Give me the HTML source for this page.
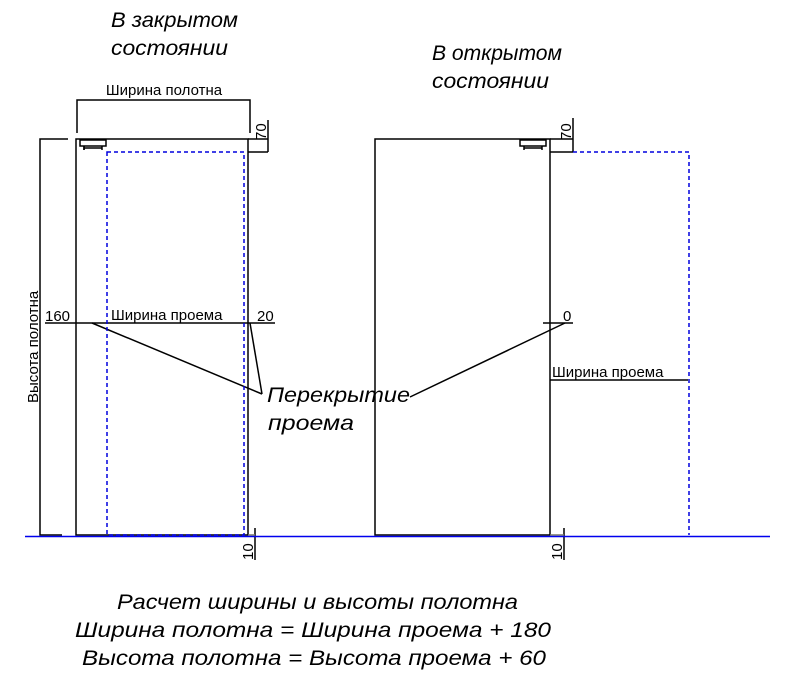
<!DOCTYPE html>
<html><head><meta charset="utf-8"><style>html,body{margin:0;padding:0;background:#fff}</style></head>
<body>
<svg width="789" height="681" viewBox="0 0 789 681" xmlns="http://www.w3.org/2000/svg" font-family="Liberation Sans, sans-serif">
<g font-style="italic" font-size="21" fill="#000">
<text x="111" y="27" textLength="127" lengthAdjust="spacingAndGlyphs">В закрытом</text>
<text x="111" y="55" textLength="117" lengthAdjust="spacingAndGlyphs">состоянии</text>
<text x="432" y="60" textLength="130" lengthAdjust="spacingAndGlyphs">В открытом</text>
<text x="432" y="88" textLength="117" lengthAdjust="spacingAndGlyphs">состоянии</text>
<text x="267" y="402" textLength="143" lengthAdjust="spacingAndGlyphs">Перекрытие</text>
<text x="268" y="430" textLength="86" lengthAdjust="spacingAndGlyphs">проема</text>
<text x="117" y="609" textLength="401" lengthAdjust="spacingAndGlyphs">Расчет ширины и высоты полотна</text>
<text x="75" y="637" textLength="476" lengthAdjust="spacingAndGlyphs">Ширина полотна = Ширина проема + 180</text>
<text x="82" y="665" textLength="464" lengthAdjust="spacingAndGlyphs">Высота полотна = Высота проема + 60</text>
</g>
<g fill="none" stroke="#000" stroke-width="1.5">
<!-- left door -->
<rect x="76" y="139" width="172" height="396"/>
<polyline points="77,133 77,100 250,100 250,133"/>
<polyline points="248,139 268,139"/>
<polyline points="248,152 268,152"/>
<line x1="268" y1="120" x2="268" y2="152"/>
<polyline points="68,139 40,139 40,535 62,535"/>
<rect x="80" y="140" width="26" height="6"/>
<polyline points="84,146 84,150 M102,146 102,150"/>
<line x1="84" y1="146" x2="84" y2="150"/><line x1="102" y1="146" x2="102" y2="150"/><line x1="84" y1="148" x2="102" y2="148"/>
<line x1="45" y1="323" x2="275" y2="323"/>
<line x1="92" y1="323" x2="262" y2="394"/>
<line x1="250" y1="323" x2="262" y2="394"/>
<line x1="255" y1="528" x2="255" y2="560"/>
<line x1="248" y1="535" x2="255" y2="535" stroke="#776"/>
<!-- right door -->
<rect x="375" y="139" width="175" height="396"/>
<line x1="550" y1="152" x2="573" y2="152"/>
<line x1="550" y1="139" x2="573" y2="139"/>
<line x1="573" y1="118" x2="573" y2="152"/>
<rect x="520" y="140" width="26" height="6"/>
<line x1="524" y1="146" x2="524" y2="150"/><line x1="542" y1="146" x2="542" y2="150"/><line x1="524" y1="148" x2="542" y2="148"/>
<line x1="543" y1="323" x2="573" y2="323"/>
<line x1="410" y1="397" x2="565" y2="323"/>
<line x1="550" y1="380" x2="688" y2="380"/>
<line x1="564" y1="528" x2="564" y2="560"/>
<line x1="550" y1="535" x2="564" y2="535" stroke="#776"/>
</g>
<g fill="none" stroke="#0000dd" stroke-width="1.5" stroke-dasharray="4,3">
<rect x="107" y="152" width="137" height="383"/>
<polyline points="573,152 689,152 689,535"/>
</g>
<line x1="25" y1="536.5" x2="770" y2="536.5" stroke="#0000ee" stroke-width="1.5"/>
<g font-size="15" fill="#000">
<text x="164" y="95" text-anchor="middle">Ширина полотна</text>
<text x="45" y="321">160</text>
<text x="111" y="320">Ширина проема</text>
<text x="257" y="321">20</text>
<text x="563" y="321">0</text>
<text x="552" y="377">Ширина проема</text>
<text transform="translate(38,403) rotate(-90)">Высота полотна</text>
<text transform="translate(266,140) rotate(-90)">70</text>
<text transform="translate(571,140) rotate(-90)">70</text>
<text transform="translate(253,560) rotate(-90)">10</text>
<text transform="translate(562,560) rotate(-90)">10</text>
</g>
</svg>
</body></html>
